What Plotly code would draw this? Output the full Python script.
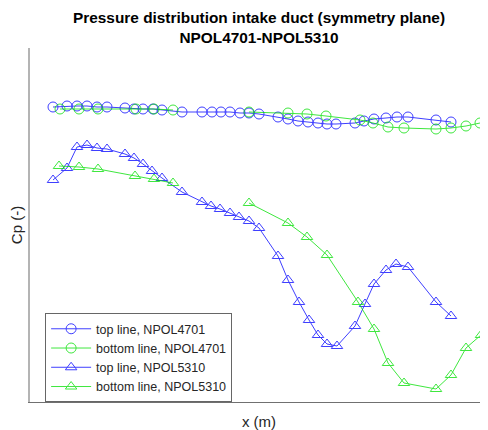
import plotly.graph_objects as go

# x positions (m, arbitrary units) and Cp values (reversed axis)
x_top_4701 = [53, 67, 77, 87, 97, 107, 125, 134, 143, 153, 162, 182, 202, 212, 221, 230, 240, 249, 259,
              278, 288, 298, 308, 318, 327, 336, 355, 364, 374, 386, 397, 408, 436, 451]
cp_top_4701 = [107, 106, 106, 106, 107, 107, 108, 109, 109, 109, 110, 112, 112, 112, 112, 112, 113, 113, 114,
               117, 119, 121, 122, 123, 124, 124, 123, 121, 119, 118, 117, 117, 120, 122]

x_bot_4701 = [60, 79, 98, 136, 154, 173, None, 249, 288, 307, 326, 360, 373, 388, 404, 436, 451, 466, 480]
cp_bot_4701 = [109, 109, 109, 109, 109, 110, None, 112, 113, 114, 116, 120, 123, 127, 128, 129, 128, 126, 123]

x_top_5310 = [53, 67, 77, 87, 97, 107, 125, 134, 143, 152, 162, 182, 202, 211, 220, 230, 239, 249, 259,
              278, 288, 299, 309, 318, 327, 337, 355, 365, 374, 386, 396, 408, 436, 451]
cp_top_5310 = [180, 168, 147, 145, 148, 149, 154, 158, 164, 171, 178, 192, 202, 206, 209, 213, 217, 221, 228,
               256, 280, 302, 320, 335, 344, 346, 326, 304, 284, 270, 264, 267, 302, 316]

x_bot_5310 = [59, 79, 98, 135, 154, 173, None, 249, 288, 307, 327, 358, 374, 388, 404, 436, 451, 466, 481]
cp_bot_5310 = [166, 167, 169, 176, 179, 183, None, 203, 223, 237, 255, 302, 329, 363, 383, 389, 375, 348, 335]

names = ["top line, NPOL4701", "bottom line, NPOL4701", "top line, NPOL5310", "bottom line, NPOL5310"]
series = [(x_top_4701, cp_top_4701), (x_bot_4701, cp_bot_4701),
          (x_top_5310, cp_top_5310), (x_bot_5310, cp_bot_5310)]
colors = ["#0000ff", "#00e000", "#0000ff", "#00e000"]
symbols = ["circle-open", "circle-open", "triangle-up-open", "triangle-up-open"]

fig = go.Figure()
for (xs, ys), nm, c, s in zip(series, names, colors, symbols):
    fig.add_trace(go.Scatter(
        x=xs, y=ys, name=nm, mode="lines+markers", connectgaps=False,
        line=dict(color=c, width=1),
        marker=dict(symbol=s, size=10, color=c, line=dict(color=c, width=1)),
        opacity=0.75,
    ))

W, H = 480, 422  # page body has an 8px margin
fig.update_layout(
    width=W, height=H,
    margin=dict(l=22, r=0, t=40, b=28, autoexpand=False),
    paper_bgcolor="white", plot_bgcolor="white",
    font=dict(family="Liberation Sans, Arial, sans-serif", color="#262626"),
    title=dict(
        text="<b>Pressure distribution intake duct (symmetry plane)</b><br><b>NPOL4701-NPOL5310</b>",
        x=251 / W, xanchor="center",
        yref="container", y=1 - 15 / H, yanchor="middle",
        font=dict(size=15.4, color="black"),
    ),
    showlegend=True,
    legend=dict(
        x=0.033, y=0.251, xanchor="left", yanchor="top",
        bgcolor="white", bordercolor="#666666", borderwidth=1,
        font=dict(size=12.5, color="#262626"),
        tracegroupgap=0, itemwidth=40,
    ),
)
fig.update_xaxes(range=[30, 488], showticklabels=False, ticks="", showgrid=False, zeroline=False,
                 automargin=False,
                 showline=True, linecolor="#707070", linewidth=1,
                 title=dict(text="x (m)", font=dict(size=15, color="#262626"), standoff=14))
fig.update_yaxes(range=[402, 48], showticklabels=False, ticks="", showgrid=False, zeroline=False,
                 automargin=False,
                 showline=True, linecolor="#b4b4b4", linewidth=2,
                 title=dict(text="Cp (-)", font=dict(size=15, color="#262626"), standoff=6))

fig.write_html("out.html")
